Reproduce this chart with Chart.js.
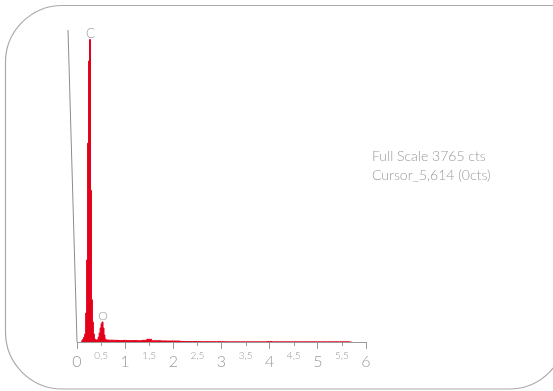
<!DOCTYPE html>
<html>
<head>
<meta charset="utf-8">
<style>
  html, body { margin: 0; padding: 0; background: #fff; }
  canvas { display: block; }
</style>
<script src="https://cdn.jsdelivr.net/npm/chart.js@4.4.1/dist/chart.umd.min.js"></script>
</head>
<body>
<canvas id="spectrum" width="553" height="391"></canvas>
<script>
// EDS spectrum: channel energy (keV) and counts per channel
const energyKeV = [
  0.09, 0.11, 0.13, 0.15, 0.17, 0.19, 0.21, 0.23, 0.25, 0.27,
  0.29, 0.31, 0.33, 0.35, 0.37, 0.39, 0.41, 0.43, 0.45, 0.47,
  0.49, 0.51, 0.53, 0.55, 0.57, 0.59, 0.61,
  0.7, 0.8, 0.9, 1.0, 1.1, 1.2, 1.3, 1.4, 1.5, 1.6,
  1.7, 1.8, 1.9, 2.0, 2.1, 2.2, 2.3, 2.4, 2.5, 2.6,
  2.7, 2.8, 2.9, 3.0, 3.1, 3.2, 3.3, 3.4, 3.5, 3.6,
  3.7, 3.8, 3.9, 4.0, 4.1, 4.2, 4.3, 4.4, 4.5, 4.6,
  4.7, 4.8, 4.9, 5.0, 5.1, 5.2, 5.3, 5.4, 5.5, 5.6, 5.7
];
const counts = [
  0, 18, 36, 60, 97, 350, 990, 2400, 3390, 3650,
  1830, 510, 240, 97, 36, 24, 24, 30, 60, 110,
  170, 220, 242, 170, 85, 36, 24,
  22, 20, 18, 19, 16, 17, 15, 20, 32, 14,
  15, 13, 12, 12, 11, 6, 5, 5, 5, 4,
  4, 4, 4, 4, 3, 2, 2, 2, 2, 2,
  2, 2, 2, 5, 2, 2, 2, 2, 2, 2,
  2, 2, 2, 2, 2, 2, 2, 2, 2, 2, 0
];

// Energy axis ticks (keV)
const tickValues = [0, 0.5, 1, 1.5, 2, 2.5, 3, 3.5, 4, 4.5, 5, 5.5, 6];

// Element line markers
const peakNames = ['C', 'O'];
const peakEnergies = [0.27, 0.53];

// Acquisition info
const fullScaleCounts = 3765;
const infoLines = ['Full Scale 3765 cts', 'Cursor_5,614 (0cts)'];

const FONT = 'Lato';
const GREY = '#9a9a9a';
const RED = '#e3001b';

Chart.defaults.font.family = FONT;

const decorations = {
  id: 'decorations',
  beforeDraw(chart) {
    const ctx = chart.ctx;
    // rounded panel outline
    ctx.save();
    ctx.strokeStyle = '#aaaaaa';
    ctx.lineWidth = 1.2;
    const x0 = 5.5, y0 = 5.5, x1 = 566, y1 = 389, r = 57;
    ctx.beginPath();
    ctx.moveTo(x0 + r, y0);
    ctx.lineTo(x1, y0);
    ctx.lineTo(x1, y1 - r);
    ctx.arcTo(x1, y1, x1 - r, y1, r);
    ctx.lineTo(x0 + r, y1);
    ctx.arcTo(x0, y1, x0, y1 - r, r);
    ctx.lineTo(x0, y0 + r);
    ctx.arcTo(x0, y0, x0 + r, y0, r);
    ctx.closePath();
    ctx.stroke();
    ctx.restore();
  },
  afterDraw(chart) {
    const ctx = chart.ctx;
    const area = chart.chartArea;
    const xs = chart.scales.x;
    const ys = chart.scales.y;
    ctx.save();

    // counts axis line
    ctx.strokeStyle = '#8c8c8c';
    ctx.lineWidth = 1;
    ctx.beginPath();
    ctx.moveTo(area.left - 9, area.top);
    ctx.lineTo(area.left, area.bottom);
    ctx.stroke();

    // short half-keV tick marks
    ctx.strokeStyle = '#999999';
    tickValues.forEach(v => {
      if (v % 1 === 0) return;
      const px = Math.round(xs.getPixelForValue(v)) + 0.5;
      ctx.beginPath();
      ctx.moveTo(px, area.bottom);
      ctx.lineTo(px, area.bottom + 4);
      ctx.stroke();
    });

    // element labels above their peaks
    ctx.fillStyle = GREY;
    ctx.textAlign = 'center';
    ctx.textBaseline = 'alphabetic';
    peakNames.forEach((name, i) => {
      const idx = energyKeV.indexOf(peakEnergies[i]);
      const px = xs.getPixelForValue(peakEnergies[i]);
      const py = ys.getPixelForValue(counts[idx]);
      ctx.font = '300 ' + (i === 0 ? 13 : 12) + 'px ' + FONT;
      ctx.fillText(name, px + 0.5, py - 1.5);
    });

    // acquisition info
    ctx.font = '300 14px ' + FONT;
    ctx.textAlign = 'left';
    infoLines.forEach((t, i) => ctx.fillText(t, 372, 161 + i * 19));
    ctx.restore();
  }
};

new Chart(document.getElementById('spectrum'), {
  type: 'line',
  data: {
    datasets: [{
      data: energyKeV.map((e, i) => ({ x: e, y: counts[i] })),
      stepped: 'middle',
      fill: 'origin',
      backgroundColor: RED,
      borderColor: RED,
      borderWidth: 1,
      pointRadius: 0
    }]
  },
  options: {
    responsive: false,
    animation: false,
    layout: { padding: { left: 77, right: 187, top: 30, bottom: 0 } },
    plugins: { legend: { display: false }, tooltip: { enabled: false } },
    scales: {
      x: {
        type: 'linear',
        min: 0,
        max: 6,
        afterBuildTicks(scale) { scale.ticks = tickValues.map(v => ({ value: v })); },
        afterFit(scale) { scale.height = 49; },
        grid: {
          drawOnChartArea: false,
          drawTicks: true,
          tickLength: 7,
          tickColor: c => (c.tick && c.tick.value % 1 === 0) ? '#999999' : 'rgba(0,0,0,0)'
        },
        border: { display: true, color: '#999999', width: 1 },
        ticks: {
          autoSkip: false,
          maxRotation: 0,
          minRotation: 0,
          padding: 0,
          color: GREY,
          font: c => (c.tick && c.tick.value % 1 !== 0)
            ? { family: FONT, size: 10, weight: '300', lineHeight: '14px' }
            : { family: FONT, size: 16, weight: '300', lineHeight: '25px' },
          callback: v => String(v).replace('.', ',')
        }
      },
      y: {
        display: false,
        min: 0,
        max: fullScaleCounts
      }
    }
  },
  plugins: [decorations]
});
</script>
</body>
</html>
